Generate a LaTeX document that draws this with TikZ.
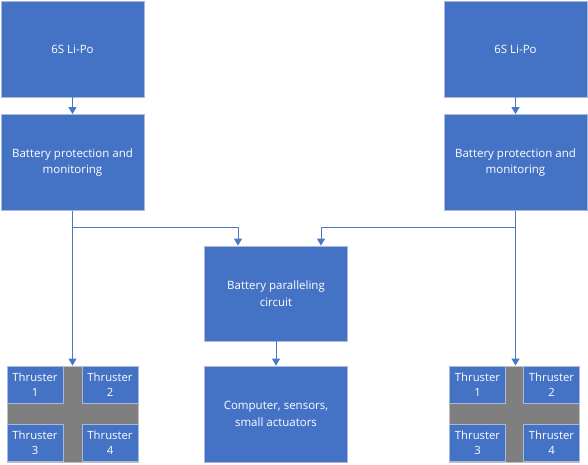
\documentclass[tikz,border=0pt]{standalone}
\usepackage{fontspec}
\setmainfont{Open Sans}
\usetikzlibrary{arrows.meta}
\definecolor{boxblue}{HTML}{4472C4}
\definecolor{boxedge}{HTML}{A9B9DA}
\definecolor{linkblue}{HTML}{4A78C8}
\definecolor{padgray}{HTML}{7F7F7F}
\definecolor{padedge}{HTML}{BFBFBF}
\tikzset{
  block/.style={draw=boxedge, fill=boxblue, line width=0.8pt, text=white, align=center,
    font=\fontsize{11.5}{16.5}\selectfont, inner sep=0pt},
  big/.style={block, minimum width=143pt, minimum height=96pt},
  thr/.style={block, minimum width=56pt, minimum height=37pt, font=\fontsize{11.3}{15}\selectfont},
  pad/.style={draw=padedge, fill=padgray, line width=0.8pt, minimum width=131pt, minimum height=96pt, inner sep=0pt},
  link/.style={draw=linkblue, line width=1pt},
  arr/.style={link, -{Triangle[length=7pt, width=8pt]}}
}
\begin{document}
\begin{tikzpicture}[x=1pt, y=-1pt]
\useasboundingbox (0,0) rectangle (588,465);
% left column
\node[big] (bat1) at (72.5,49) {6S Li-Po};
\node[big] (bp1) at (72.5,162.5) {Battery protection and\\monitoring};
% right column
\node[big] (bat2) at (515.5,49) {6S Li-Po};
\node[big] (bp2) at (515.5,162.5) {Battery protection and\\monitoring};
% middle
\node[big, minimum height=95pt] (par) at (276,293.5) {Battery paralleling\\circuit};
\node[big] (comp) at (276,414) {Computer, sensors,\\small actuators};
% thruster groups
\node[pad] (tg1) at (72.5,414) {};
\node[thr] (t11) at (35,384.5) {Thruster\\1};
\node[thr] (t12) at (110,384.5) {Thruster\\2};
\node[thr] (t13) at (35,442.5) {Thruster\\3};
\node[thr] (t14) at (110,442.5) {Thruster\\4};
\node[pad, minimum width=130pt] (tg2) at (514,414) {};
\node[thr] (t21) at (477.5,384.5) {Thruster\\1};
\node[thr] (t22) at (551.5,384.5) {Thruster\\2};
\node[thr] (t23) at (477.5,442.5) {Thruster\\3};
\node[thr] (t24) at (551.5,442.5) {Thruster\\4};
% connectors
\draw[arr] (bat1.south) -- (bp1.north);
\draw[arr] (bat2.south) -- (bp2.north);
\draw[arr] (bp1.south) -- (bp1.south |- tg1.north);
\draw[arr] (bp2.south) -- (bp2.south |- tg2.north);
\coordinate (j1) at (72.5,227);
\coordinate (j2) at (515.5,227);
\draw[arr] (j1) -| ([xshift=-38pt]par.north);
\draw[arr] (j2) -| ([xshift=45pt]par.north);
\draw[arr] (par.south) -- (comp.north);
\end{tikzpicture}
\end{document}
